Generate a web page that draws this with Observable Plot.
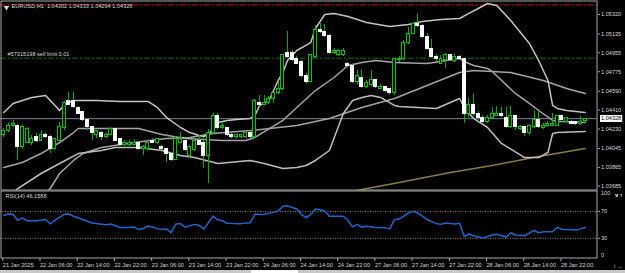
<!DOCTYPE html>
<html><head><meta charset="utf-8">
<script src="https://cdn.jsdelivr.net/npm/d3@7"></script>
<script src="https://cdn.jsdelivr.net/npm/@observablehq/plot@0.6"></script>
<style>
html,body{margin:0;padding:0;background:#000;}
#wrap{width:625px;height:273px;overflow:hidden;background:#000;}
#wrap svg{display:block;}
#chrome{height:3px;background:#c8c8c8;position:relative;}
#tab{position:absolute;left:251px;width:47px;top:0;height:3px;background:#fff;}
</style></head>
<body><div id="wrap"></div>
<script>
// ---------- data ----------
const symbolTitle = "EURUSD,H1";
const lastOHLC = [1.04302, 1.04333, 1.04294, 1.04328];
const bidPrice = 1.04328;
const sellLimitPrice = 1.04904;
const sellLimitLabel = "#57315198 sell limit 0.01";
const stopLevelPrice = 1.05410;
const priceTicks = [1.05320, 1.05135, 1.04955, 1.04775, 1.04590, 1.04410, 1.04230, 1.04045, 1.03865, 1.03685];
const timeTickBars = [0, 8, 16, 24, 32, 40, 48, 56, 64, 72, 80, 88, 96, 104, 112, 120];
const timeTickLabels = ["21 Jan 2025","22 Jan 06:00","22 Jan 14:00","22 Jan 22:00","23 Jan 06:00","23 Jan 14:00","23 Jan 22:00","24 Jan 06:00","24 Jan 14:00","24 Jan 22:00","27 Jan 06:00","27 Jan 14:00","27 Jan 22:00","28 Jan 06:00","28 Jan 14:00","28 Jan 22:00"];
const rsiLabel = "RSI(14) 46.1588";
const rsiLevels = [70, 30];

const open = [
1.04168,1.04206,1.04254,1.04263,1.04054,1.04101,1.04092,1.04149,1.04120,1.04177,
1.04158,1.04044,1.04120,1.04235,1.04501,1.04501,1.04425,1.04387,1.04320,1.04244,
1.04177,1.04196,1.04149,1.04177,1.04225,1.04130,1.04073,1.04073,1.04082,1.04101,
1.04035,1.04035,1.04120,1.04092,1.04063,1.04035,1.03996,1.03939,1.04101,1.04111,
1.03977,1.04025,1.04120,1.04101,1.03968,1.04187,1.04358,1.04235,1.04235,1.04177,
1.04149,1.04149,1.04149,1.04187,1.04149,1.04482,1.04463,1.04473,1.04511,1.04568,
1.04606,1.04949,1.04949,1.04901,1.04863,1.04739,1.04682,1.04911,1.05177,1.05149,
1.05120,1.04949,1.04939,1.04939,1.04853,1.04834,1.04673,1.04720,1.04634,1.04644,
1.04692,1.04615,1.04625,1.04606,1.04568,1.04882,1.04892,1.05053,1.05139,1.05225,
1.05206,1.05101,1.04996,1.04920,1.04853,1.04882,1.04930,1.04873,1.04911,1.04892,
1.04377,1.04454,1.04377,1.04339,1.04292,1.04339,1.04358,1.04377,1.04339,1.04244,
1.04349,1.04225,1.04244,1.04196,1.04244,1.04320,1.04235,1.04254,1.04263,1.04263,
1.04349,1.04301,1.04292,1.04292,1.04273,1.04302];
const high = [
1.04235,1.04282,1.04311,1.04273,1.04263,1.04244,1.04168,1.04187,1.04215,1.04196,
1.04168,1.04139,1.04292,1.04492,1.04577,1.04577,1.04444,1.04396,1.04330,1.04254,
1.04215,1.04206,1.04187,1.04244,1.04235,1.04139,1.04120,1.04120,1.04130,1.04111,
1.04073,1.04101,1.04139,1.04139,1.04073,1.04044,1.04006,1.04158,1.04196,1.04120,
1.04073,1.04149,1.04168,1.04149,1.04225,1.04377,1.04377,1.04292,1.04244,1.04187,
1.04177,1.04177,1.04206,1.04215,1.04511,1.04549,1.04549,1.04539,1.04577,1.04673,
1.04939,1.05158,1.04977,1.04920,1.04882,1.04758,1.04939,1.05215,1.05234,1.05225,
1.05130,1.04996,1.04987,1.04996,1.04863,1.04844,1.04787,1.04796,1.04692,1.04787,
1.04701,1.04654,1.04634,1.04615,1.04901,1.04920,1.05072,1.05196,1.05234,1.05330,
1.05225,1.05139,1.05082,1.04939,1.04930,1.04949,1.04939,1.04939,1.04930,1.04901,
1.04520,1.04568,1.04396,1.04358,1.04358,1.04435,1.04444,1.04435,1.04435,1.04444,
1.04358,1.04263,1.04254,1.04273,1.04406,1.04396,1.04282,1.04301,1.04377,1.04358,
1.04358,1.04339,1.04311,1.04301,1.04349,1.04333];
const low = [
1.04149,1.04196,1.04244,1.03930,1.04035,1.04092,1.04073,1.04101,1.04111,1.04139,
1.03996,1.04025,1.04111,1.04215,1.04454,1.04425,1.04368,1.04301,1.04215,1.04120,
1.04139,1.04120,1.04139,1.04168,1.04111,1.04073,1.04063,1.04063,1.04073,1.04025,
1.03977,1.04025,1.04092,1.04082,1.04025,1.03911,1.03920,1.03930,1.04092,1.04016,
1.03958,1.04016,1.04073,1.03854,1.03711,1.04177,1.04225,1.04225,1.04158,1.04139,
1.04139,1.04139,1.04139,1.04139,1.04139,1.04444,1.04454,1.04463,1.04473,1.04558,
1.04596,1.04901,1.04873,1.04844,1.04720,1.04654,1.04673,1.04901,1.05139,1.05101,
1.04939,1.04939,1.04920,1.04920,1.04825,1.04663,1.04654,1.04615,1.04615,1.04634,
1.04615,1.04606,1.04577,1.04549,1.04549,1.04863,1.04882,1.05034,1.05130,1.05196,
1.05092,1.04977,1.04901,1.04873,1.04844,1.04806,1.04873,1.04863,1.04882,1.04282,
1.04339,1.04349,1.04311,1.04282,1.04282,1.04330,1.04349,1.04339,1.04235,1.04235,
1.04215,1.04215,1.04158,1.04168,1.04235,1.04235,1.04225,1.04244,1.04254,1.04254,
1.04311,1.04292,1.04273,1.04263,1.04263,1.04294];
const close = [
1.04215,1.04263,1.04273,1.04054,1.04244,1.04225,1.04139,1.04111,1.04177,1.04149,
1.04044,1.04130,1.04244,1.04473,1.04463,1.04435,1.04377,1.04311,1.04244,1.04196,
1.04206,1.04158,1.04177,1.04225,1.04120,1.04082,1.04092,1.04092,1.04101,1.04035,
1.04063,1.04092,1.04101,1.04130,1.04035,1.03996,1.03930,1.04139,1.04130,1.04025,
1.04063,1.04111,1.04082,1.03968,1.04187,1.04358,1.04235,1.04254,1.04168,1.04149,
1.04168,1.04168,1.04187,1.04149,1.04492,1.04454,1.04482,1.04520,1.04568,1.04615,
1.04930,1.04911,1.04882,1.04853,1.04730,1.04682,1.04930,1.05177,1.05149,1.05111,
1.04949,1.04977,1.04968,1.04977,1.04834,1.04673,1.04730,1.04625,1.04663,1.04692,
1.04634,1.04634,1.04587,1.04568,1.04892,1.04901,1.05053,1.05139,1.05225,1.05206,
1.05101,1.04987,1.04911,1.04892,1.04901,1.04930,1.04882,1.04920,1.04892,1.04377,
1.04454,1.04377,1.04339,1.04292,1.04339,1.04368,1.04377,1.04349,1.04244,1.04349,
1.04244,1.04244,1.04196,1.04254,1.04320,1.04244,1.04263,1.04282,1.04282,1.04349,
1.04320,1.04330,1.04282,1.04273,1.04301,1.04328];

// Bollinger band (20) lines and moving averages, read at the listed bars
const upperBars = [0,2,6,9,10,12,13,15,20,25,31,33,35,38,40,42,43,44,45,46,48,50,53,54,55,57,59,60,61,63,66,67,69,71,74,78,83,87,90,94,98,100,102,104,106,109,113,115,117,118,119,121,125];
const upperVals = [1.04387,1.04473,1.04530,1.04549,1.04501,1.04406,1.04463,1.04501,1.04501,1.04492,1.04492,1.04435,1.04339,1.04244,1.04196,1.04168,1.04158,1.04177,1.04235,1.04292,1.04311,1.04320,1.04330,1.04358,1.04454,1.04501,1.04692,1.04768,1.04882,1.04977,1.05053,1.05187,1.05320,1.05330,1.05301,1.05244,1.05206,1.05225,1.05253,1.05272,1.05282,1.05330,1.05377,1.05425,1.05406,1.05263,1.05044,1.04882,1.04692,1.04454,1.04425,1.04406,1.04387];
const middleBars = [0,4,8,12,15,16,21,29,34,39,47,52,54,60,63,67,71,74,77,80,84,91,98,99,101,104,105,110,113,115,118,120,125];
const middleVals = [1.03863,1.03911,1.03996,1.04101,1.04196,1.04235,1.04235,1.04235,1.04177,1.04139,1.04120,1.04120,1.04149,1.04311,1.04435,1.04596,1.04720,1.04834,1.04863,1.04882,1.04863,1.04853,1.04901,1.04873,1.04834,1.04806,1.04777,1.04568,1.04473,1.04406,1.04311,1.04301,1.04292];
const lowerBars = [0,3,8,12,16,21,24,29,34,38,41,46,53,56,60,63,65,67,70,73,75,77,79,81,84,85,93,98,99,101,104,107,112,115,117,118,119,125];
const lowerVals = [1.03540,1.03663,1.03806,1.03901,1.03996,1.04025,1.04054,1.04054,1.04025,1.03977,1.03958,1.03901,1.03930,1.03901,1.03854,1.03863,1.03882,1.03930,1.04025,1.04377,1.04501,1.04530,1.04549,1.04530,1.04454,1.04444,1.04425,1.04520,1.04435,1.04330,1.04244,1.04092,1.03958,1.03958,1.04006,1.04187,1.04196,1.04206];
const ma50Bars = [7,10,12,15,17,21,28,35,40,45,53,63,70,77,84,91,98,101,105,109,116,121,125];
const ma50Vals = [1.03550,1.03663,1.03806,1.03930,1.03996,1.04054,1.04101,1.04139,1.04149,1.04187,1.04215,1.04263,1.04330,1.04435,1.04520,1.04644,1.04768,1.04787,1.04777,1.04768,1.04692,1.04615,1.04568];
const ma200Bars = [72,77,85,96,105,115,125];
const ma200Vals = [1.03610,1.03654,1.03720,1.03816,1.03882,1.03968,1.04044];

const rsiBars = [0,1,2,3,4,5,6,7,9,10,11,13,14,15,17,19,21,22,23,25,27,28,29,30,31,32,33,35,36,37,38,39,41,42,43,45,46,47,48,50,51,53,54,55,56,58,59,60,61,63,64,65,66,67,68,69,70,72,73,74,75,76,77,78,80,82,83,84,85,86,87,88,89,91,93,94,95,97,98,99,100,101,103,105,106,108,109,110,112,114,115,116,118,119,120,122,123,124,125];
const rsiVals = [63.8,66.1,65.7,56.5,60.4,56.1,56.1,56.1,58.0,51.3,57.0,65.7,66.1,62.8,58.0,52.7,50.7,50.3,51.3,46.0,46.0,46.9,43.0,44.5,48.4,46.9,44.0,43.6,38.3,51.3,51.8,46.4,50.7,49.3,43.6,62.8,57.5,56.1,52.2,51.8,51.8,53.2,66.1,65.2,65.7,68.5,70.5,77.7,78.2,73.4,65.2,60.9,65.2,73.4,72.4,70.5,62.8,62.8,62.8,56.5,46.9,50.7,46.4,47.9,46.0,45.5,44.0,58.0,58.5,62.8,67.6,70.0,67.6,58.0,51.8,50.7,52.7,51.3,52.2,32.5,36.4,33.9,30.6,34.9,35.9,32.0,38.3,34.9,33.9,41.6,38.3,39.7,39.7,46.0,43.6,42.8,42.4,44.0,46.16];

// ---------- build ----------
const bars = open.map((o, i) => ({i, o, h: high[i], l: low[i], c: close[i]}));
const pts = (bs, vs) => bs.map((b, k) => ({i: b, v: vs[k]}));
const X_DOMAIN = [-0.71, 127.65];
const FONT = "'Liberation Sans', Arial, sans-serif";
const TXT = "#d6d6d6";
const FS = 5.6;
const GRID = "#a8a8a8";
const baseStyle = {background: "#000", fontFamily: FONT, fontSize: FS + "px", color: TXT, overflow: "visible"};
const titleText = symbolTitle + "\u00a0\u00a0" + lastOHLC.map(v => v.toFixed(5)).join(" ");

const main = Plot.plot({
  width: 625, height: 190,
  marginLeft: 0, marginRight: 28, marginTop: 0, marginBottom: 0,
  style: baseStyle,
  x: {domain: X_DOMAIN, axis: null},
  y: {domain: [1.036441, 1.054533], axis: null},
  marks: [
    Plot.ruleY([stopLevelPrice], {stroke: "#8b0a0a", strokeWidth: 1.5, strokeDasharray: "6,2,2,2"}),
    Plot.ruleY([sellLimitPrice], {stroke: "#167016", strokeDasharray: "6,2,2,2"}),
    Plot.ruleY([bidPrice], {stroke: "#778899"}),
    Plot.line(pts(ma200Bars, ma200Vals), {x: "i", y: "v", stroke: "#8c7b40", clip: true}),
    Plot.line(pts(ma50Bars, ma50Vals), {x: "i", y: "v", stroke: "#a4a4a4", clip: true}),
    Plot.line(pts(lowerBars, lowerVals), {x: "i", y: "v", stroke: "#bdbdbd", clip: true}),
    Plot.line(pts(middleBars, middleVals), {x: "i", y: "v", stroke: "#a4a4a4", clip: true}),
    Plot.line(pts(upperBars, upperVals), {x: "i", y: "v", stroke: "#c4c4c4", clip: true}),
    Plot.ruleX(bars, {x: "i", y1: "l", y2: "h", stroke: "#00b000", shapeRendering: "crispEdges"}),
    Plot.rect(bars, {
      x1: d => d.i - 0.32, x2: d => d.i + 0.32, y1: "o", y2: "c",
      fill: d => d.c < d.o ? "#ffffff" : "#000000",
      stroke: d => d.c < d.o ? "#ffffff" : "#00c800",
      strokeWidth: 1, shapeRendering: "crispEdges"
    }),
    Plot.frame({stroke: GRID, inset: 0.5}),
    Plot.axisY(priceTicks, {anchor: "right", tickSize: 2, tickPadding: 1.5, tickFormat: d => d.toFixed(5), stroke: GRID, fill: TXT}),
    Plot.text([bidPrice], {y: d => d, text: d => d.toFixed(5), frameAnchor: "right", dx: 3.5, textAnchor: "start", fill: "#000", className: "bidlabel"}),
    Plot.dot([symbolTitle], {frameAnchor: "top-left", dx: 6, dy: 7, symbol: "triangle", r: 2, fill: TXT, stroke: null, rotate: 180}),
    Plot.text([titleText], {frameAnchor: "top-left", dx: 11, dy: 4, textAnchor: "start", lineAnchor: "top", fill: TXT}),
    Plot.text([sellLimitLabel], {y: () => sellLimitPrice, frameAnchor: "left", dx: 7, dy: -2, textAnchor: "start", lineAnchor: "bottom", fill: TXT})
  ]
});

const rsi = Plot.plot({
  width: 625, height: 80,
  marginLeft: 0, marginRight: 28, marginTop: 0, marginBottom: 12,
  style: baseStyle,
  x: {domain: X_DOMAIN, axis: null},
  y: {domain: [0, 101], axis: null},
  marks: [
    Plot.ruleY(rsiLevels, {stroke: "#8a8a8a", strokeDasharray: "1,1.5"}),
    Plot.line(pts(rsiBars, rsiVals), {x: "i", y: "v", stroke: "#1f66cc", clip: true}),
    Plot.frame({stroke: GRID, inset: 0.5}),
    Plot.axisY(rsiLevels, {anchor: "right", tickSize: 2, tickPadding: 1.5, stroke: GRID, fill: TXT}),
    Plot.axisY([100], {anchor: "right", tickSize: 0, tickPadding: 3.5, dy: 2.5, stroke: GRID, fill: TXT}),
    Plot.axisY([0], {anchor: "right", tickSize: 0, tickPadding: 3.5, dy: -3, stroke: GRID, fill: TXT}),
    Plot.axisX(timeTickBars, {anchor: "bottom", tickSize: 3, tickPadding: 1.5, textAnchor: "start", dx: -1,
      tickFormat: d => timeTickLabels[timeTickBars.indexOf(d)], stroke: GRID, fill: TXT}),
    Plot.text([rsiLabel], {frameAnchor: "top-left", dx: 5, dy: 4, textAnchor: "start", lineAnchor: "top", fill: TXT})
  ]
});

const wrap = document.getElementById("wrap");
wrap.append(main);
wrap.append(rsi);
const chrome = document.createElement("div");
chrome.id = "chrome";
chrome.innerHTML = '<div id="tab"></div>';
wrap.append(chrome);

// white box behind the current price label
d3.select(main).selectAll(".bidlabel text").each(function() {
  const bb = this.getBBox();
  d3.select(this.parentNode).insert("rect", "text")
    .attr("transform", this.getAttribute("transform"))
    .attr("x", bb.x - 1).attr("y", bb.y - 0.5)
    .attr("width", bb.width + 2).attr("height", bb.height + 1)
    .attr("fill", "#ffffff");
});
</script>
</body></html>
